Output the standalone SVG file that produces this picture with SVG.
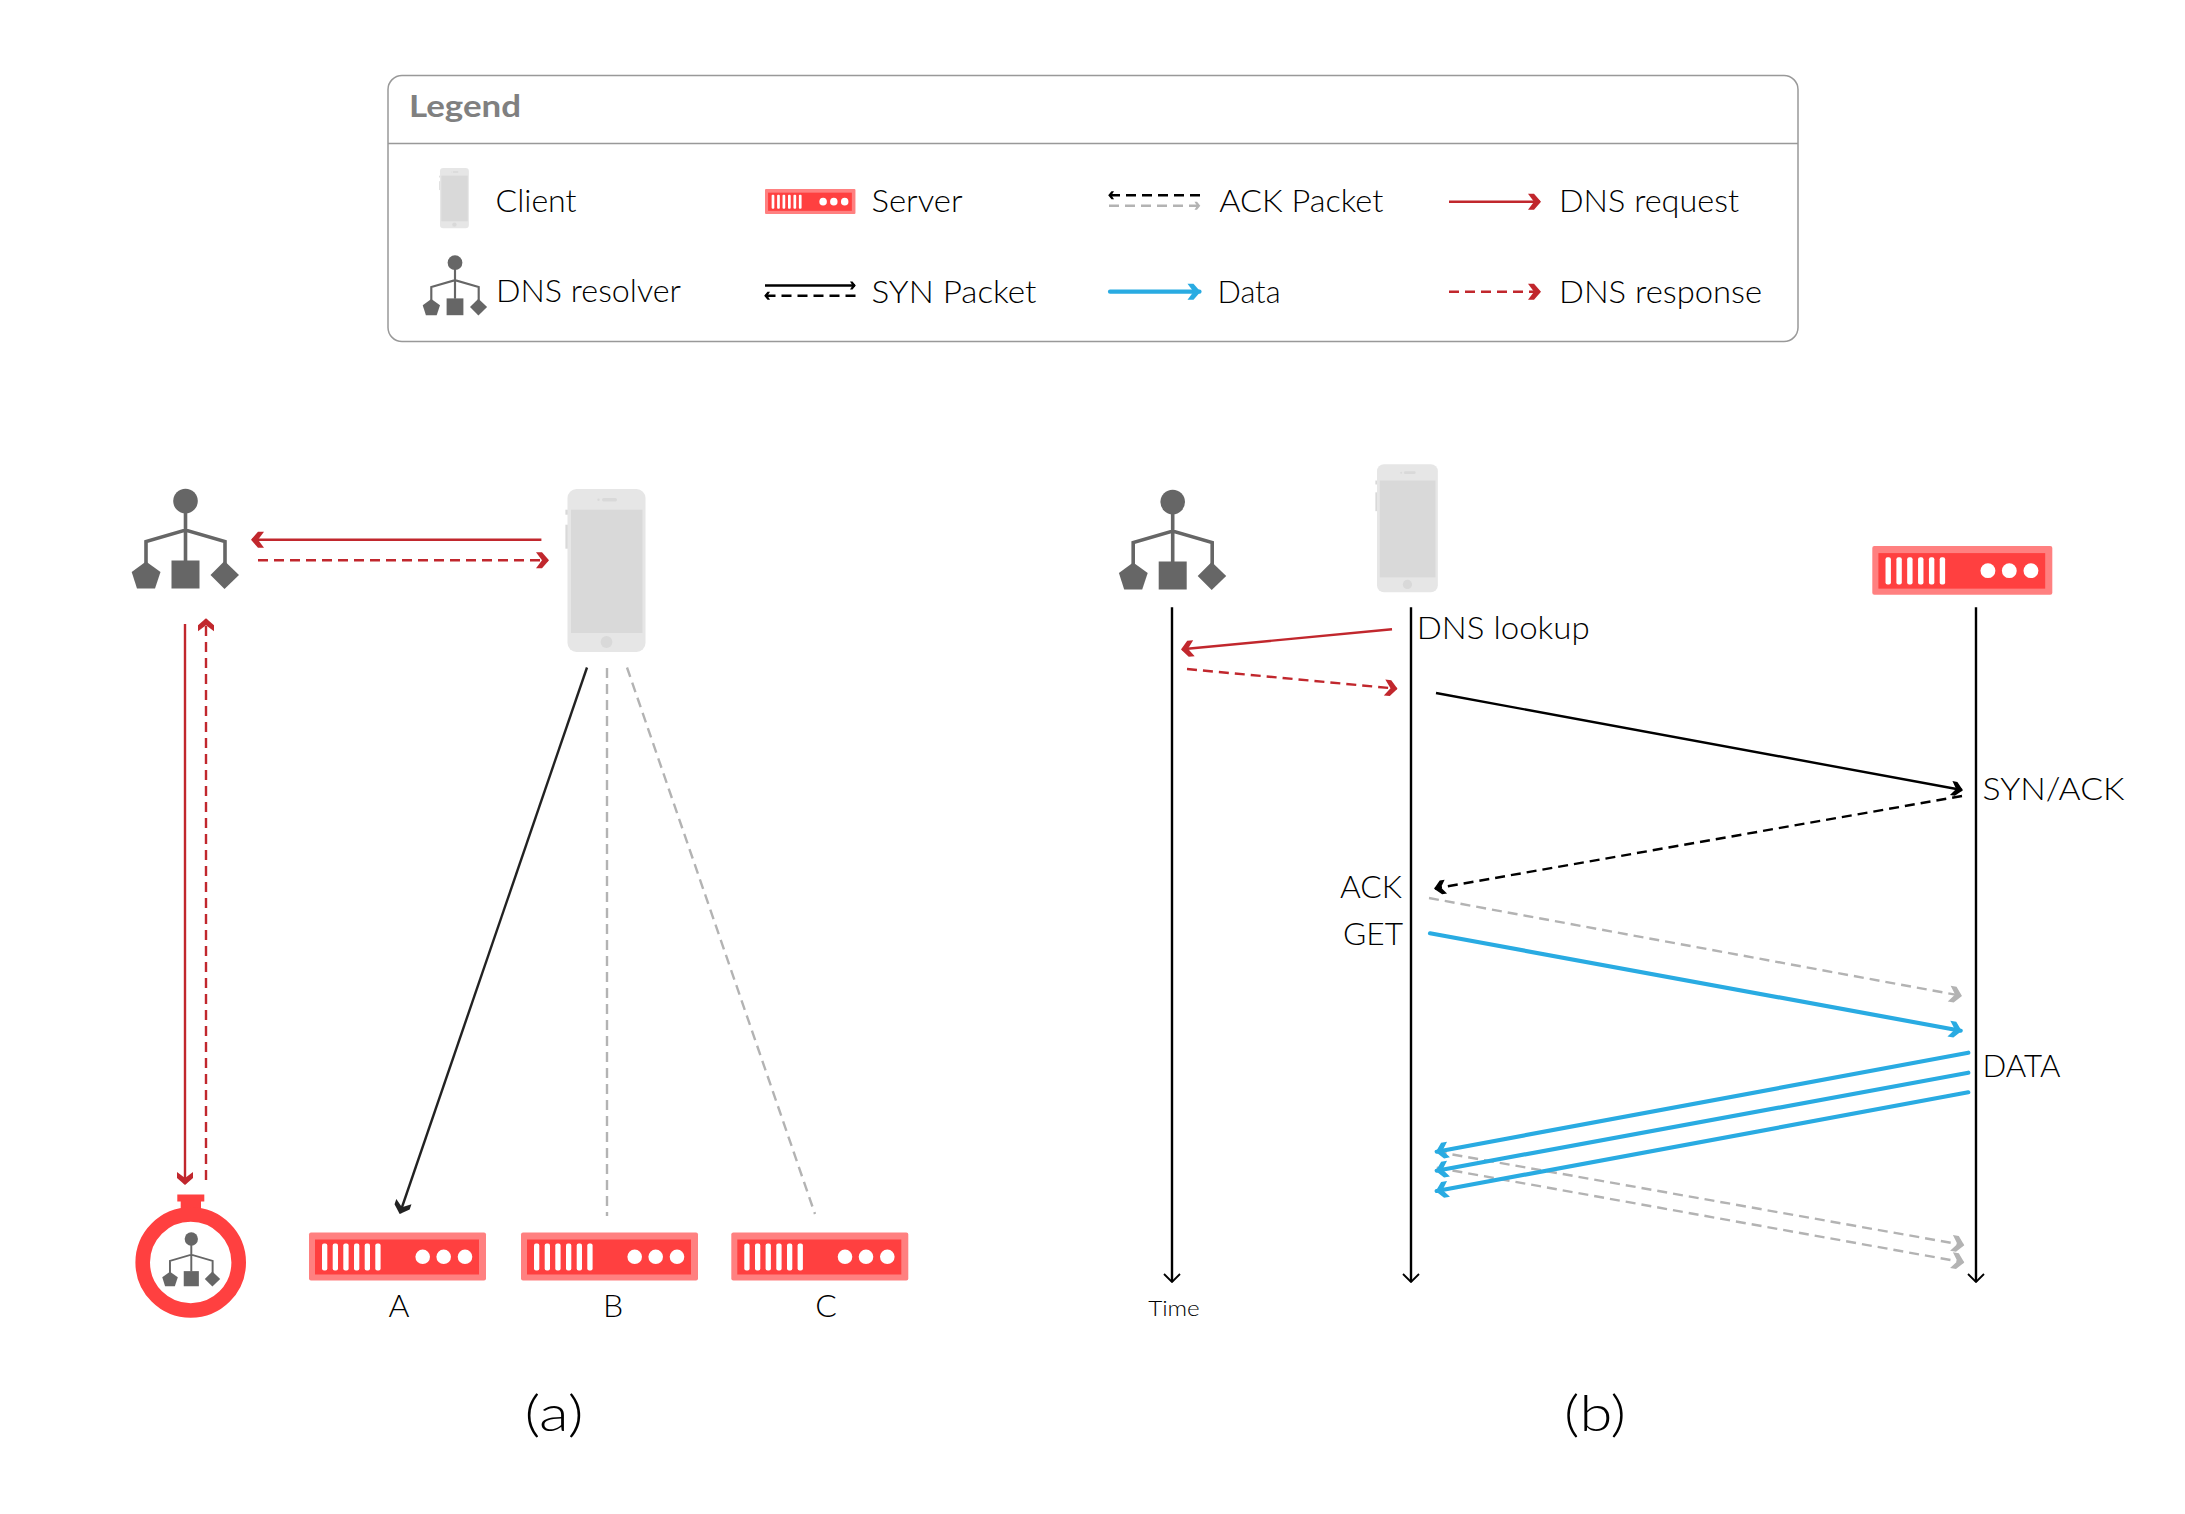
<svg xmlns="http://www.w3.org/2000/svg" xmlns:xlink="http://www.w3.org/1999/xlink" width="2185" height="1514" viewBox="0 0 2185 1514">
<style>
text{font-family:"Lato","Liberation Sans",sans-serif;font-weight:300;fill:#000}
.lt{font-size:32px}.ct{font-size:32px}
.title{font-weight:700;font-size:30px;fill:#808080}
.red{stroke:#c1272d;stroke-width:2.4;fill:none}
.blue{stroke:#29abe2;stroke-width:4.2;fill:none;stroke-linecap:round}
.blk{stroke:#000;stroke-width:2.4;fill:none}
.gry{stroke:#b3b3b3;stroke-width:2.4;fill:none}
.d{stroke-dasharray:10 6}
</style>
<defs>
<marker id="mr" markerUnits="userSpaceOnUse" viewBox="-14 -10 17 20" refX="0" refY="0" markerWidth="17" markerHeight="20" orient="auto"><polygon points="-12,-8 -6,-8 1,0 -6,8 -12,8 -6,0" fill="#c1272d"/></marker>
<marker id="mb" markerUnits="userSpaceOnUse" viewBox="-14 -10 17 20" refX="0" refY="0" markerWidth="17" markerHeight="20" orient="auto"><polygon points="-12,-8 -6,-8 1,0 -6,8 -12,8 -6,0" fill="#29abe2"/></marker>
<marker id="mg" markerUnits="userSpaceOnUse" viewBox="-14 -10 17 20" refX="0" refY="0" markerWidth="17" markerHeight="20" orient="auto"><polygon points="-12,-8 -6,-8 1,0 -6,8 -12,8 -6,0" fill="#b3b3b3"/></marker>
<marker id="mk" markerUnits="userSpaceOnUse" viewBox="-14 -10 17 20" refX="0" refY="0" markerWidth="17" markerHeight="20" orient="auto"><polygon points="-11,-7 -6,-7 1,0 -6,7 -11,7 -6,0" fill="#000"/></marker>
<marker id="md" markerUnits="userSpaceOnUse" viewBox="-14 -10 17 20" refX="0" refY="0" markerWidth="17" markerHeight="20" orient="auto"><polygon points="-12,-8 -6.5,-8 1,0 -6.5,8 -12,8 -6,0" fill="#222"/></marker>
<marker id="ms" markerUnits="userSpaceOnUse" viewBox="-7 -5 9 10" refX="0" refY="0" markerWidth="9" markerHeight="10" orient="auto"><polygon points="-5,-4 -2.5,-4 0.8,0 -2.5,4 -5,4 -2.5,0" fill="#000"/></marker>
<marker id="msg" markerUnits="userSpaceOnUse" viewBox="-7 -5 9 10" refX="0" refY="0" markerWidth="9" markerHeight="10" orient="auto"><polygon points="-5,-4 -2.5,-4 0.8,0 -2.5,4 -5,4 -2.5,0" fill="#b3b3b3"/></marker>
<marker id="mt" markerUnits="userSpaceOnUse" viewBox="-11 -9 12 18" refX="0" refY="0" markerWidth="12" markerHeight="18" orient="auto"><path d="M-8,-8 L0,0 L-8,8" fill="none" stroke="#000" stroke-width="1.8"/></marker>
<g id="server">
<rect width="177" height="48" rx="2" fill="#ff8080"/>
<rect x="6" y="7" width="164" height="35" fill="#ff4040"/>
<g fill="#fff"><rect x="13" y="11" width="5.3" height="27" rx="2"/><rect x="23.7" y="11" width="5.3" height="27" rx="2"/><rect x="34.3" y="11" width="5.3" height="27" rx="2"/><rect x="45" y="11" width="5.3" height="27" rx="2"/><rect x="55.7" y="11" width="5.3" height="27" rx="2"/><rect x="66.3" y="11" width="5.3" height="27" rx="2"/>
<circle cx="113.7" cy="24.3" r="7.3"/><circle cx="134.7" cy="24.3" r="7.3"/><circle cx="156" cy="24.3" r="7.3"/></g>
</g>
<g id="phone">
<rect x="-2.1" y="20.7" width="3" height="5" fill="#d9d9d9"/><rect x="-2.1" y="35.7" width="3" height="24" fill="#d9d9d9"/>
<rect width="78" height="163" rx="9" fill="#e6e6e6"/>
<rect x="3.5" y="20.7" width="71.5" height="123.3" fill="#d9d9d9"/>
<circle cx="39" cy="153" r="5.9" fill="#d9d9d9"/>
<rect x="34.5" y="9" width="15" height="3.5" rx="1.7" fill="#d9d9d9"/><circle cx="31" cy="10.7" r="1.2" fill="#d9d9d9"/>
</g>
<g id="resolver">
<circle cx="0" cy="0" r="12.3" fill="#666"/>
<path d="M0,10V60M-39.5,63V40.5L0,29L39.5,40.5V63" fill="none" stroke="#666" stroke-width="3.6"/>
<rect x="-14" y="59.5" width="28" height="28" fill="#666"/>
<polygon points="-39.5,60.5 -25,71 -30.5,87.5 -48.5,87.5 -53.8,71" fill="#666"/>
<polygon points="39,60 53.5,74 39,88 25,74" fill="#666"/>
</g>
</defs>

<g id="legend">
<rect x="388" y="75.5" width="1410" height="266" rx="14" fill="#fff" stroke="#999" stroke-width="1.5"/>
<path d="M388,143.5H1798" stroke="#999" stroke-width="1.5"/>
<text class="title" x="409" y="116.5" textLength="112" lengthAdjust="spacingAndGlyphs">Legend</text>
</g>
<g id="legend-client"><use href="#phone" transform="translate(440,168) scale(.37)"/><text class="lt" x="495.5" y="212" textLength="81" lengthAdjust="spacingAndGlyphs">Client</text></g>
<g id="legend-server"><use href="#server" transform="translate(765,189) scale(.511,.52)"/><text class="lt" x="871.5" y="212" textLength="91" lengthAdjust="spacingAndGlyphs">Server</text></g>
<g id="legend-resolver"><use href="#resolver" transform="translate(455,262.7) scale(.6)"/><text class="lt" x="496" y="301.7" textLength="185" lengthAdjust="spacingAndGlyphs">DNS resolver</text></g>
<g id="legend-syn"><text class="lt" x="871.5" y="302.7" textLength="165" lengthAdjust="spacingAndGlyphs">SYN Packet</text></g>
<g id="legend-ack"><text class="lt" x="1219.3" y="212.3" textLength="164" lengthAdjust="spacingAndGlyphs">ACK Packet</text></g>
<g id="legend-data"><text class="lt" x="1217.5" y="302.7" textLength="63" lengthAdjust="spacingAndGlyphs">Data</text></g>
<g id="legend-req"><text class="lt" x="1559" y="212" textLength="180" lengthAdjust="spacingAndGlyphs">DNS request</text></g>
<g id="legend-res"><text class="lt" x="1559" y="302.7" textLength="203" lengthAdjust="spacingAndGlyphs">DNS response</text></g>

<g id="a-resolver"><use href="#resolver" transform="translate(185.5,501)"/></g>
<g id="a-client"><use href="#phone" transform="translate(567.5,489)"/></g>
<g id="a-stopwatch">
<rect x="177.3" y="1194.5" width="27" height="7" fill="#ff4040"/><rect x="180.7" y="1201" width="20.3" height="14" fill="#ff4040"/>
<circle cx="190.7" cy="1262.5" r="48" fill="#fff" stroke="#ff4040" stroke-width="14.6"/>
<use href="#resolver" transform="translate(191.3,1239) scale(.54)"/>
</g>
<g id="server-a"><use href="#server" transform="translate(309,1232.5)"/><text class="ct" x="399" y="1317" text-anchor="middle">A</text></g>
<g id="server-b"><use href="#server" transform="translate(521,1232.5)"/><text class="ct" x="613" y="1317" text-anchor="middle">B</text></g>
<g id="server-c"><use href="#server" transform="translate(731.3,1232.5)"/><text class="ct" x="826" y="1317" text-anchor="middle">C</text></g>
<text x="554" y="1431" font-size="50" text-anchor="middle" textLength="59" lengthAdjust="spacingAndGlyphs">(a)</text>

<g id="b-resolver"><use href="#resolver" transform="translate(1172.7,502)"/></g>
<g id="b-client"><use href="#phone" transform="translate(1377,464.3) scale(.78,.785)"/></g>
<g id="b-server"><use href="#server" transform="translate(1872.3,546) scale(1.017,1.015)"/></g>
<g id="b-labels">
<text class="ct" x="1416.7" y="638.5" textLength="173" lengthAdjust="spacingAndGlyphs">DNS lookup</text>
<text class="ct" x="1982.5" y="800" textLength="142" lengthAdjust="spacingAndGlyphs">SYN/ACK</text>
<text class="ct" x="1402" y="898" text-anchor="end" textLength="62" lengthAdjust="spacingAndGlyphs">ACK</text>
<text class="ct" x="1403" y="945" text-anchor="end" textLength="60" lengthAdjust="spacingAndGlyphs">GET</text>
<text class="ct" x="1982.5" y="1077" textLength="78" lengthAdjust="spacingAndGlyphs">DATA</text>
<text x="1174" y="1315.5" font-size="22" text-anchor="middle" textLength="51.6" lengthAdjust="spacingAndGlyphs">Time</text>
<text x="1595" y="1431" font-size="50" text-anchor="middle" textLength="62" lengthAdjust="spacingAndGlyphs">(b)</text>
</g>

<g id="connectors">
<path class="blk" d="M765,285.5H855" marker-end="url(#ms)"/>
<path class="blk d" d="M855.5,295.7H765" marker-end="url(#ms)"/>
<path class="blk d" d="M1200,195.3H1109" marker-end="url(#ms)"/>
<path class="gry d" d="M1109,205.7H1199.5" marker-end="url(#msg)"/>
<path class="blue" d="M1110,291.7H1199.5" marker-end="url(#mb)"/>
<path class="red" d="M1449,201.7H1540" marker-end="url(#mr)"/>
<path class="red d" d="M1449,291.7H1540" marker-end="url(#mr)"/>

<path class="red" d="M541.4,539.7H252" marker-end="url(#mr)"/>
<path class="red d" d="M258,560.3H548" marker-end="url(#mr)"/>
<path class="red" d="M185,624V1184" marker-end="url(#mr)"/>
<path class="red d" d="M206,1180V619.3" marker-end="url(#mr)"/>
<path d="M587,667.5L400,1213" stroke="#222" stroke-width="2.4" fill="none" marker-end="url(#md)"/>
<path class="gry d" d="M607,668V1216"/>
<path class="gry d" d="M627,667.5L815,1214"/>

<path class="blk" d="M1172,607.3V1282" marker-end="url(#mt)"/>
<path class="blk" d="M1411,607.3V1282" marker-end="url(#mt)"/>
<path class="blk" d="M1976,607.3V1282" marker-end="url(#mt)"/>
<path class="red" d="M1392,629.3L1182,649.3" marker-end="url(#mr)"/>
<path class="red d" d="M1187,669L1396.5,688.7" marker-end="url(#mr)"/>
<path class="blk" d="M1436,693L1962,790" marker-end="url(#mk)"/>
<path class="blk d" d="M1962,796L1435,888.5" marker-end="url(#mk)"/>
<path class="gry d" d="M1429,898L1961,995.7" marker-end="url(#mg)"/>
<path class="blue" d="M1430,933.3L1960.7,1030.7" marker-end="url(#mb)"/>
<path class="gry d" d="M1436.7,1151.7L1963.3,1245" marker-end="url(#mg)"/>
<path class="gry d" d="M1436.7,1167.7L1963.3,1262.3" marker-end="url(#mg)"/>
<path class="blue" d="M1968.3,1052.7L1436.7,1151.7" marker-end="url(#mb)"/>
<path class="blue" d="M1968.3,1072.7L1436.7,1170.7" marker-end="url(#mb)"/>
<path class="blue" d="M1968.3,1092.3L1436.7,1191" marker-end="url(#mb)"/>
</g>
</svg>
